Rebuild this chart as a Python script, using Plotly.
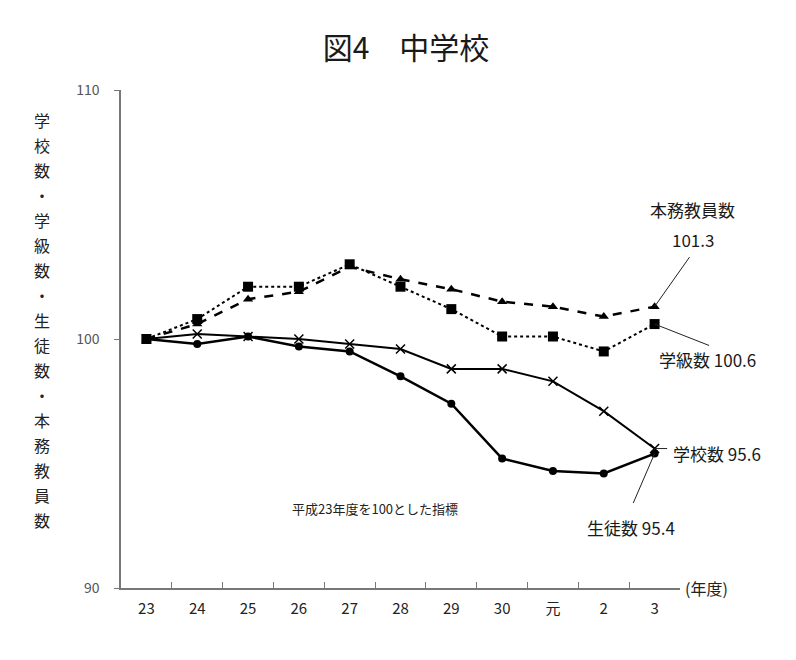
import plotly.graph_objects as go

years = ["23", "24", "25", "26", "27", "28", "29", "30", "元", "2", "3"]
schools = [100, 100.2, 100.1, 100.0, 99.8, 99.6, 98.8, 98.8, 98.3, 97.1, 95.6]
students = [100, 99.8, 100.1, 99.7, 99.5, 98.5, 97.4, 95.2, 94.7, 94.6, 95.4]
classes = [100, 100.8, 102.1, 102.1, 103.0, 102.1, 101.2, 100.1, 100.1, 99.5, 100.6]
teachers = [100, 100.6, 101.6, 101.9, 102.9, 102.4, 102.0, 101.5, 101.3, 100.9, 101.3]

FONT = "Noto Sans CJK JP"
ylabel = "学校数・学級数・生徒数・本務教員数"
last = len(years) - 1  # category index of the last year

fig = go.Figure()
fig.add_trace(go.Scatter(x=years, y=teachers, mode="lines+markers",
                         line=dict(color="black", width=2.5, dash="dash"),
                         marker=dict(symbol="triangle-up", size=9, color="black")))
fig.add_trace(go.Scatter(x=years, y=classes, mode="lines+markers",
                         line=dict(color="black", width=2, dash="dot"),
                         marker=dict(symbol="square", size=10, color="black")))
fig.add_trace(go.Scatter(x=years, y=schools, mode="lines+markers",
                         line=dict(color="black", width=2),
                         marker=dict(symbol="x-thin-open", size=9,
                                     line=dict(color="black", width=1.5))))
fig.add_trace(go.Scatter(x=years, y=students, mode="lines+markers",
                         line=dict(color="black", width=2.5),
                         marker=dict(symbol="circle", size=8, color="black")))

lab = dict(size=17, color="#1a1a1a")
lead = dict(text="", showarrow=True, arrowhead=0, arrowwidth=1, arrowcolor="#222")

# labels with leader lines
fig.add_annotation(x=last, y=teachers[-1], ax=36, ay=-51, **lead)
fig.add_annotation(x=last, y=teachers[-1], text="本務教員数",
                   showarrow=False, xshift=38, yshift=97, font=lab)
fig.add_annotation(x=last, y=teachers[-1], text=f"{teachers[-1]}",
                   showarrow=False, xshift=38, yshift=67, font=lab)
fig.add_annotation(x=last, y=classes[-1], ax=56, ay=22, **lead)
fig.add_annotation(x=last, y=classes[-1], text=f"学級数 {classes[-1]}",
                   showarrow=False, xanchor="left", xshift=2, yshift=-35, font=lab)
fig.add_annotation(x=last, y=schools[-1], ax=14, ay=0, **lead)
fig.add_annotation(x=last, y=schools[-1], text=f"学校数 {schools[-1]}",
                   showarrow=False, xanchor="left", xshift=16, yshift=-5, font=lab)
fig.add_annotation(x=last, y=students[-1], ax=-22, ay=51, **lead)
fig.add_annotation(x=last, y=students[-1], text=f"生徒数 {students[-1]}",
                   showarrow=False, xshift=-24, yshift=-74, font=lab)

fig.add_annotation(xref="paper", yref="paper", x=0.454, y=0.137,
                   text="平成23年度を100とした指標", showarrow=False,
                   font=dict(size=13, color="#222"))
fig.add_annotation(xref="paper", yref="paper", x=1.005, y=0, xanchor="left",
                   yanchor="middle", text="(年度)", showarrow=False,
                   font=dict(size=16, color="#222"))

# vertical y-axis title, one character per line
n = len(ylabel)
for i, ch in enumerate(ylabel):
    fig.add_annotation(xref="paper", yref="paper", x=-0.141,
                       y=0.94 - i * (0.94 - 0.137) / (n - 1),
                       text=ch, showarrow=False, xanchor="center", yanchor="middle",
                       font=dict(size=16, color="#222"))

fig.update_layout(
    width=796, height=660,
    title=dict(text="図4　中学校", x=0.5, y=0.938, xanchor="center", yanchor="middle",
               font=dict(size=30, color="#1a1a1a", family=FONT)),
    font=dict(family=FONT, color="#333"),
    showlegend=False,
    plot_bgcolor="white", paper_bgcolor="white",
    margin=dict(l=113, r=124, t=82, b=80),
)
fig.update_xaxes(type="category", range=[-0.5, 10.5], showline=True, linecolor="#777",
                 linewidth=1.5, ticks="inside", tickson="boundaries", ticklen=6,
                 tickcolor="#777", showgrid=False, tickfont=dict(size=15, color="#222"),
                 ticklabelstandoff=6)
fig.update_yaxes(range=[90, 110], tickvals=[90, 100, 110], showline=True, linecolor="#777",
                 linewidth=1.5, ticks="outside", ticklen=5, tickcolor="#777",
                 showgrid=False, zeroline=False, tickfont=dict(size=14, color="#555"),
                 ticklabelstandoff=12)

fig.write_html("out.html")
